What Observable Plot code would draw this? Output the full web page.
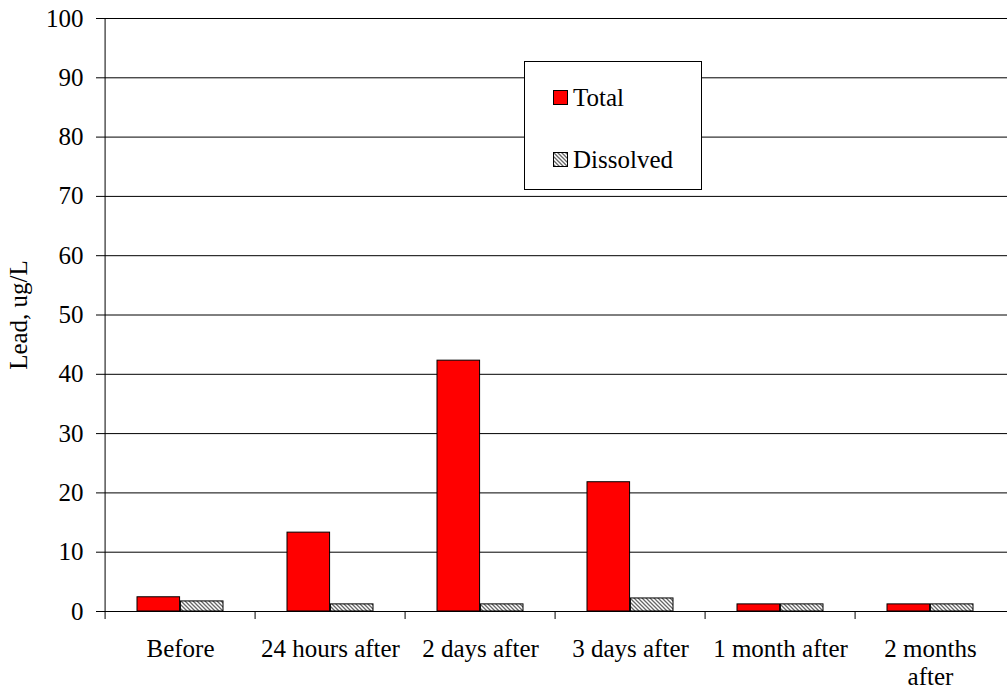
<!DOCTYPE html>
<html><head><meta charset="utf-8">
<script src="https://cdn.jsdelivr.net/npm/d3@7"></script>
<script src="https://cdn.jsdelivr.net/npm/@observablehq/plot@0.6"></script>
<style>
body{margin:0;background:#fff}
#wrap{position:relative;width:1007px;height:692px;font-family:"Liberation Serif","Times New Roman",serif}
#wrap svg text{font-family:"Liberation Serif","Times New Roman",serif}
#legend{position:absolute;left:524px;top:61px;width:176px;height:127px;border:1px solid #000;background:#fff;font-size:25px;color:#000}
#legend .item{position:absolute;left:28px;display:flex;align-items:center;white-space:nowrap;line-height:1}
#legend svg{margin-right:5px}
</style>
</head><body><div id="wrap"></div>
<script>
const categories = ["Before", "24 hours after", "2 days after", "3 days after", "1 month after", "2 months after"];
const tickLabels = ["Before", "24 hours after", "2 days after", "3 days after", "1 month after", "2 months\nafter"];
const seriesNames = ["Total", "Dissolved"];
const totalValues = [2.4, 13.3, 42.3, 21.8, 1.2, 1.2];
const dissolvedValues = [1.7, 1.2, 1.2, 2.2, 1.2, 1.2];
const yTicks = [0, 10, 20, 30, 40, 50, 60, 70, 80, 90, 100];
const yLabel = "Lead, ug/L";

const data = categories.map((c, i) => ({category: c, total: totalValues[i], dissolved: dissolvedValues[i]}));

const W = 1007, H = 692, ML = 102, MR = 0, MT = 18, MB = 81;
const bw = (W - ML - MR) / categories.length;
const outer = 32;
const barW = (bw - 2 * outer) / 2;
const FONT = "Liberation Serif";

const chart = Plot.plot({
  width: W, height: H, marginLeft: ML, marginRight: MR, marginTop: MT, marginBottom: MB,
  style: {fontFamily: FONT, fontSize: "25px", background: "white", color: "#000"},
  x: {domain: categories, padding: 0},
  y: {domain: [0, 100]},
  marks: [
    Plot.gridY(yTicks, {stroke: "#000", strokeOpacity: 1, strokeWidth: 1}),
    Plot.barY(data, {x: "category", y: "total", fill: "#ff0000", stroke: "#000", strokeWidth: 1,
      insetLeft: outer, insetRight: bw - outer - barW}),
    Plot.barY(data, {x: "category", y: "dissolved", fill: "url(#hatch)", stroke: "#000", strokeWidth: 1,
      insetLeft: outer + barW, insetRight: outer}),
    Plot.ruleY([0], {stroke: "#000"}),
    Plot.ruleX(categories, {x: d => d, dx: -bw / 2, y1: 0, y2: -1.35, stroke: "#000"}),
    Plot.ruleX(categories.slice(0, 1), {x: d => d, dx: -bw / 2, y1: 0, y2: 100, stroke: "#000"}),
    Plot.axisY(yTicks, {tickSize: 6, tickPadding: 13, stroke: "#000", fontFamily: FONT, fontVariant: "normal",
      label: yLabel, labelAnchor: "center", labelArrow: "none", labelOffset: 93}),
    Plot.axisX({tickSize: 0, tickPadding: 26, lineHeight: 1.12, fontFamily: FONT, fontVariant: "normal",
      tickFormat: d => tickLabels[categories.indexOf(d)], label: null})
  ]
});

d3.select(chart).insert("defs", ":first-child").html(
  `<pattern id="hatch" patternUnits="userSpaceOnUse" width="4" height="4">
     <rect width="4" height="4" fill="#fff"/>
     <path d="M-1,-1L5,5M-1,3L1,5M3,-1L5,1" stroke="#666" stroke-width="1.3"/>
   </pattern>`);

const wrap = document.getElementById("wrap");
wrap.appendChild(chart);

const legend = document.createElement("div");
legend.id = "legend";
const swatches = [
  `<svg width="15" height="15"><rect x="0.5" y="0.5" width="14" height="14" fill="#ff0000" stroke="#000"/></svg>`,
  `<svg width="15" height="15"><defs><pattern id="hatch2" patternUnits="userSpaceOnUse" width="4" height="4"><rect width="4" height="4" fill="#fff"/><path d="M-1,-1L5,5M-1,3L1,5M3,-1L5,1" stroke="#666" stroke-width="1.3"/></pattern></defs><rect x="0.5" y="0.5" width="14" height="14" fill="url(#hatch2)" stroke="#000"/></svg>`
];
const tops = [23, 85];
seriesNames.forEach((name, i) => {
  const it = document.createElement("div");
  it.className = "item";
  it.style.top = tops[i] + "px";
  it.innerHTML = swatches[i] + `<span>${name}</span>`;
  legend.appendChild(it);
});
wrap.appendChild(legend);
</script>
</body></html>
